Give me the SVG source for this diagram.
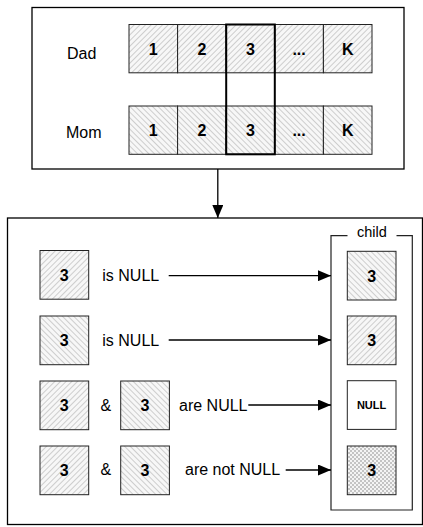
<svg xmlns="http://www.w3.org/2000/svg" width="423" height="527" viewBox="0 0 423 527">
<defs>
<pattern id="hatchDad" patternUnits="userSpaceOnUse" width="4" height="4" patternTransform="rotate(45)">
<rect width="4" height="4" fill="#f7f7f7"/>
<line x1="0" y1="0" x2="0" y2="4" stroke="#999" stroke-width="0.9"/>
</pattern>
<pattern id="hatchMom" patternUnits="userSpaceOnUse" width="4" height="4" patternTransform="rotate(-45)">
<rect width="4" height="4" fill="#f7f7f7"/>
<line x1="0" y1="0" x2="0" y2="4" stroke="#999" stroke-width="0.9"/>
</pattern>
<pattern id="checker" patternUnits="userSpaceOnUse" width="4" height="4">
<rect width="4" height="4" fill="#f4f4f4"/>
<rect width="2" height="2" fill="#c4c4c4"/>
<rect x="2" y="2" width="2" height="2" fill="#c4c4c4"/>
</pattern>
<marker id="arrow" markerWidth="13" markerHeight="11" refX="13" refY="5.5" orient="auto" markerUnits="userSpaceOnUse">
<path d="M0,0 L13,5.5 L0,11 Z" fill="#000"/>
</marker>
</defs>
<style>
.frame{fill:#fff;stroke:#000;stroke-width:1.3}
.cell{stroke:#222;stroke-width:1}
.dad{fill:url(#hatchDad)}
.mom{fill:url(#hatchMom)}
.num{font-family:"Liberation Sans",Arial,sans-serif;font-weight:bold;font-size:16px;text-anchor:middle;dominant-baseline:central;fill:#000}
.lbl{font-family:"Liberation Sans",Arial,sans-serif;font-size:16px;dominant-baseline:central;fill:#000}
.conn{stroke:#000;stroke-width:1.3;fill:none}
</style>

<g id="parents">
<rect class="frame" x="32" y="7.5" width="372" height="161.5"/>
<text class="lbl" x="67" y="53">Dad</text>
<text class="lbl" x="66" y="132">Mom</text>
<g id="dad-row">
<rect class="cell dad" x="129" y="24.5" width="48.6" height="48.3"/>
<rect class="cell dad" x="177.6" y="24.5" width="48.6" height="48.3"/>
<rect class="cell dad" x="226.2" y="24.5" width="48.6" height="48.3"/>
<rect class="cell dad" x="274.8" y="24.5" width="48.6" height="48.3"/>
<rect class="cell dad" x="323.4" y="24.5" width="48.6" height="48.3"/>
<text class="num" x="153.3" y="49">1</text>
<text class="num" x="201.9" y="49">2</text>
<text class="num" x="250.5" y="49">3</text>
<text class="num" x="299.1" y="49">...</text>
<text class="num" x="347.7" y="49">K</text>
</g>
<g id="mom-row">
<rect class="cell mom" x="129" y="106" width="48.6" height="48.3"/>
<rect class="cell mom" x="177.6" y="106" width="48.6" height="48.3"/>
<rect class="cell mom" x="226.2" y="106" width="48.6" height="48.3"/>
<rect class="cell mom" x="274.8" y="106" width="48.6" height="48.3"/>
<rect class="cell mom" x="323.4" y="106" width="48.6" height="48.3"/>
<text class="num" x="153.3" y="130">1</text>
<text class="num" x="201.9" y="130">2</text>
<text class="num" x="250.5" y="130">3</text>
<text class="num" x="299.1" y="130">...</text>
<text class="num" x="347.7" y="130">K</text>
</g>
<rect id="highlight" x="226.2" y="24.5" width="48.6" height="129.8" fill="none" stroke="#000" stroke-width="2"/>
</g>

<g id="result">
<rect class="frame" x="7.5" y="218" width="415" height="306.5"/>
<g id="child">
<path d="M347.5,235.7 H331 V510 H412.3 V235.7 H396.5" fill="none" stroke="#222" stroke-width="1.2"/>
<text x="371.8" y="232" font-family="Liberation Sans, Arial, sans-serif" font-size="14.5" text-anchor="middle" dominant-baseline="central">child</text>
<rect class="cell mom" x="347.3" y="251.3" width="48.7" height="48.7"/>
<text class="num" x="371.6" y="276">3</text>
<rect class="cell dad" x="347.3" y="316" width="48.7" height="48.7"/>
<text class="num" x="371.6" y="340">3</text>
<rect class="cell" fill="#fff" x="347.3" y="380.7" width="48.7" height="48.7"/>
<text x="371.6" y="405" font-family="Liberation Sans, Arial, sans-serif" font-weight="bold" font-size="11" text-anchor="middle" dominant-baseline="central">NULL</text>
<rect class="cell" fill="url(#checker)" x="347.3" y="446" width="48.7" height="48.7"/>
<text class="num" x="371.6" y="470">3</text>
</g>
<g id="row1">
<rect class="cell dad" x="40" y="250.5" width="48.7" height="48.7"/>
<text class="num" x="64.3" y="275">3</text>
<text class="lbl" x="102.3" y="275.7">is NULL</text>
</g>
<g id="row2">
<rect class="cell mom" x="40" y="316" width="48.7" height="48.7"/>
<text class="num" x="64.3" y="340">3</text>
<text class="lbl" x="102.3" y="340">is NULL</text>
</g>
<g id="row3">
<rect class="cell dad" x="40" y="381" width="48.7" height="48.7"/>
<text class="num" x="64.3" y="405">3</text>
<text class="lbl" x="100.5" y="405">&amp;</text>
<rect class="cell mom" x="120.7" y="381" width="48.7" height="48.7"/>
<text class="num" x="145" y="405">3</text>
<text class="lbl" x="179" y="405">are NULL</text>
</g>
<g id="row4">
<rect class="cell dad" x="40" y="446" width="48.7" height="48.7"/>
<text class="num" x="64.3" y="470">3</text>
<text class="lbl" x="100.5" y="469">&amp;</text>
<rect class="cell mom" x="120.7" y="446" width="48.7" height="48.7"/>
<text class="num" x="145" y="470">3</text>
<text class="lbl" x="185" y="469">are not NULL</text>
</g>
</g>

<g id="connectors">
<line class="conn" x1="217.8" y1="169" x2="217.8" y2="218" marker-end="url(#arrow)"/>
<line class="conn" x1="168.7" y1="275.7" x2="331" y2="275.7" marker-end="url(#arrow)"/>
<line class="conn" x1="168.7" y1="340" x2="331" y2="340" marker-end="url(#arrow)"/>
<line class="conn" x1="248.3" y1="405" x2="331" y2="405" marker-end="url(#arrow)"/>
<line class="conn" x1="285.7" y1="470" x2="331" y2="470" marker-end="url(#arrow)"/>
</g>
</svg>
